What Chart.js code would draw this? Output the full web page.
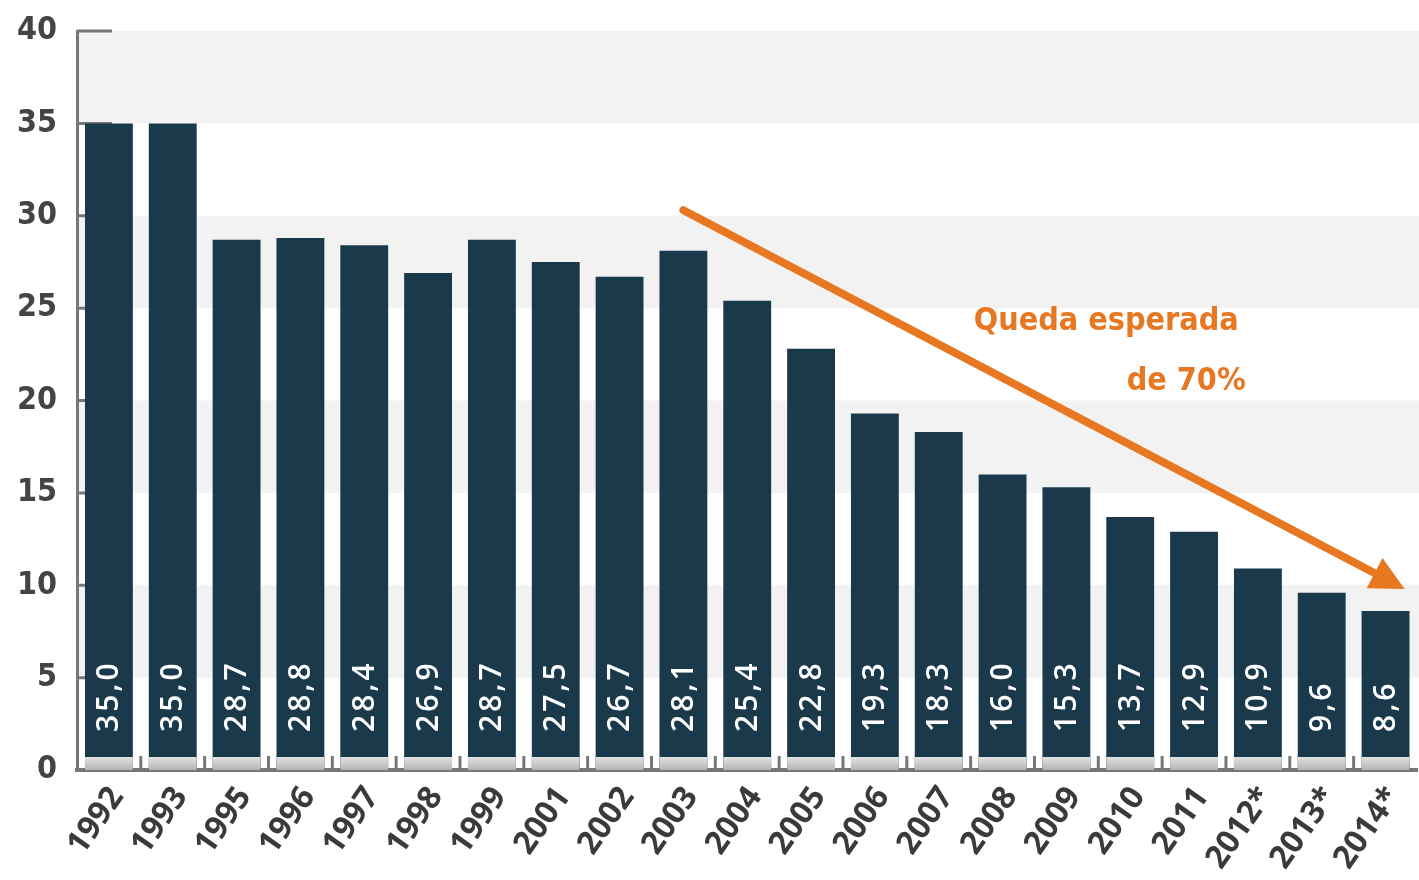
<!DOCTYPE html>
<html>
<head>
<meta charset="utf-8">
<script src="https://cdn.jsdelivr.net/npm/chart.js@4.4.0/dist/chart.umd.min.js"></script>
<style>
  html, body { margin: 0; padding: 0; background: #fff; }
  #wrap { width: 1419px; height: 880px; }
</style>
</head>
<body>
<div id="wrap"><canvas id="c" width="1419" height="880"></canvas></div>
<script>
const years = ['1992', '1993', '1995', '1996', '1997', '1998', '1999', '2001', '2002', '2003', '2004',
  '2005', '2006', '2007', '2008', '2009', '2010', '2011', '2012*', '2013*', '2014*'];
const values = [35.0, 35.0, 28.7, 28.8, 28.4, 26.9, 28.7, 27.5, 26.7, 28.1, 25.4,
  22.8, 19.3, 18.3, 16.0, 15.3, 13.7, 12.9, 10.9, 9.6, 8.6];
const yMin = 0, yMax = 40, yStep = 5;
const shadedBands = [[35, 40], [25, 30], [15, 20], [5, 10]];
const trendText = ['Queda esperada', 'de 70%'];
const trendFrom = { index: 9, value: 30.3 };
const trendTo = { index: 20.3, value: 9.8 };
const textAt = { index: 17.7, value: 23.8 };

const BAR = '#1a3a4c';
const AXIS = '#777777';
const ORANGE = '#e87722';
const COND = '"DejaVu Sans Condensed", "DejaVu Sans", sans-serif';

const decor = {
  id: 'decor',
  beforeDraw(chart) {
    const { ctx, chartArea, scales: { y } } = chart;
    ctx.save();
    ctx.fillStyle = '#f2f2f2';
    shadedBands.forEach(([lo, hi]) => {
      const top = y.getPixelForValue(hi), bot = y.getPixelForValue(lo);
      ctx.fillRect(chartArea.left, top, chart.width - chartArea.left, bot - top);
    });
    ctx.restore();
  },
  beforeDatasetsDraw(chart) {
    // inward y ticks, mostly hidden behind the bars
    const { ctx, chartArea, scales: { y } } = chart;
    ctx.save();
    ctx.strokeStyle = AXIS;
    ctx.lineWidth = 3;
    y.ticks.forEach(t => {
      if (t.value === 0) return;
      const py = y.getPixelForValue(t.value);
      ctx.beginPath();
      ctx.moveTo(chartArea.left, py);
      ctx.lineTo(chartArea.left + 35, py);
      ctx.stroke();
    });
    ctx.restore();
  },
  afterDatasetsDraw(chart) {
    const { ctx, scales: { x, y } } = chart;
    const y0 = y.getPixelForValue(0);
    const meta = chart.getDatasetMeta(0);
    ctx.save();
    // grey foot under each bar
    meta.data.forEach(bar => {
      const w = bar.width;
      const g = ctx.createLinearGradient(0, y0 - 13, 0, y0);
      g.addColorStop(0, '#e2e2e2');
      g.addColorStop(1, '#b4b4b4');
      ctx.fillStyle = g;
      ctx.fillRect(bar.x - w / 2, y0 - 13, w, 13);
    });
    // tick marks between categories
    ctx.strokeStyle = AXIS;
    ctx.lineWidth = 3;
    const step = x.getPixelForValue(1) - x.getPixelForValue(0);
    for (let i = 1; i < years.length; i++) {
      const px = x.getPixelForValue(i) - step / 2;
      ctx.beginPath();
      ctx.moveTo(px, y0);
      ctx.lineTo(px, y0 - 14);
      ctx.stroke();
    }
    // value labels, rotated
    ctx.fillStyle = '#ffffff';
    ctx.font = '600 30px "Open Sans"';
    ctx.letterSpacing = '3px';
    ctx.textAlign = 'left';
    ctx.textBaseline = 'middle';
    meta.data.forEach((bar, i) => {
      ctx.save();
      ctx.translate(bar.x + 1, y0 - 38);
      ctx.rotate(-Math.PI / 2);
      ctx.fillText(values[i].toFixed(1).replace('.', ','), 0, 0);
      ctx.restore();
    });
    ctx.restore();
  },
  afterDraw(chart) {
    const { ctx, scales: { x, y } } = chart;
    const step = x.getPixelForValue(1) - x.getPixelForValue(0);
    const px = v => x.getPixelForValue(0) + v * step;
    const x1 = px(trendFrom.index), y1 = y.getPixelForValue(trendFrom.value);
    const x2 = px(trendTo.index), y2 = y.getPixelForValue(trendTo.value);
    const ang = Math.atan2(y2 - y1, x2 - x1);
    const headLen = 34, headW = 17;
    const bx = x2 - headLen * Math.cos(ang), by = y2 - headLen * Math.sin(ang);
    ctx.save();
    ctx.strokeStyle = ORANGE;
    ctx.fillStyle = ORANGE;
    ctx.lineWidth = 8;
    ctx.lineCap = 'round';
    ctx.beginPath();
    ctx.moveTo(x1, y1);
    ctx.lineTo(bx + 4 * Math.cos(ang), by + 4 * Math.sin(ang));
    ctx.stroke();
    ctx.beginPath();
    ctx.moveTo(x2, y2);
    ctx.lineTo(bx + headW * Math.sin(ang), by - headW * Math.cos(ang));
    ctx.lineTo(bx - headW * Math.sin(ang), by + headW * Math.cos(ang));
    ctx.closePath();
    ctx.fill();
    // annotation text
    ctx.font = 'bold 32px ' + COND;
    ctx.textAlign = 'right';
    ctx.textBaseline = 'alphabetic';
    const tx = px(textAt.index), ty = y.getPixelForValue(textAt.value);
    ctx.fillText(trendText[0], tx, ty);
    ctx.fillText(trendText[1], tx + 7, ty + 60);
    ctx.restore();
  }
};

new Chart(document.getElementById('c'), {
  type: 'bar',
  data: {
    labels: years,
    datasets: [{
      data: values,
      backgroundColor: BAR,
      borderWidth: 0,
      barPercentage: 0.75,
      categoryPercentage: 1.0
    }]
  },
  options: {
    responsive: false,
    animation: false,
    layout: { padding: { top: 31, right: 0, left: 0, bottom: 0 } },
    plugins: { legend: { display: false }, tooltip: { enabled: false } },
    scales: {
      x: {
        offset: true,
        grid: { display: false },
        border: { display: true, color: AXIS, width: 4 },
        ticks: {
          maxRotation: 55, minRotation: 55,
          color: '#3a3a3a',
          font: { family: '"Open Sans"', size: 32, weight: 'bold' },
          padding: 2,
          labelOffset: 8
        },
        afterFit(s) { s.height = 110; }
      },
      y: {
        min: yMin, max: yMax,
        grid: { display: false, drawTicks: false },
        border: { display: true, color: AXIS, width: 3 },
        ticks: {
          stepSize: yStep,
          color: '#444444',
          padding: 20,
          font: { family: COND, size: 32, weight: 'bold', lineHeight: 0.6 }
        },
        afterFit(s) { s.width = 77; }
      }
    }
  },
  plugins: [decor]
});
</script>
</body>
</html>
